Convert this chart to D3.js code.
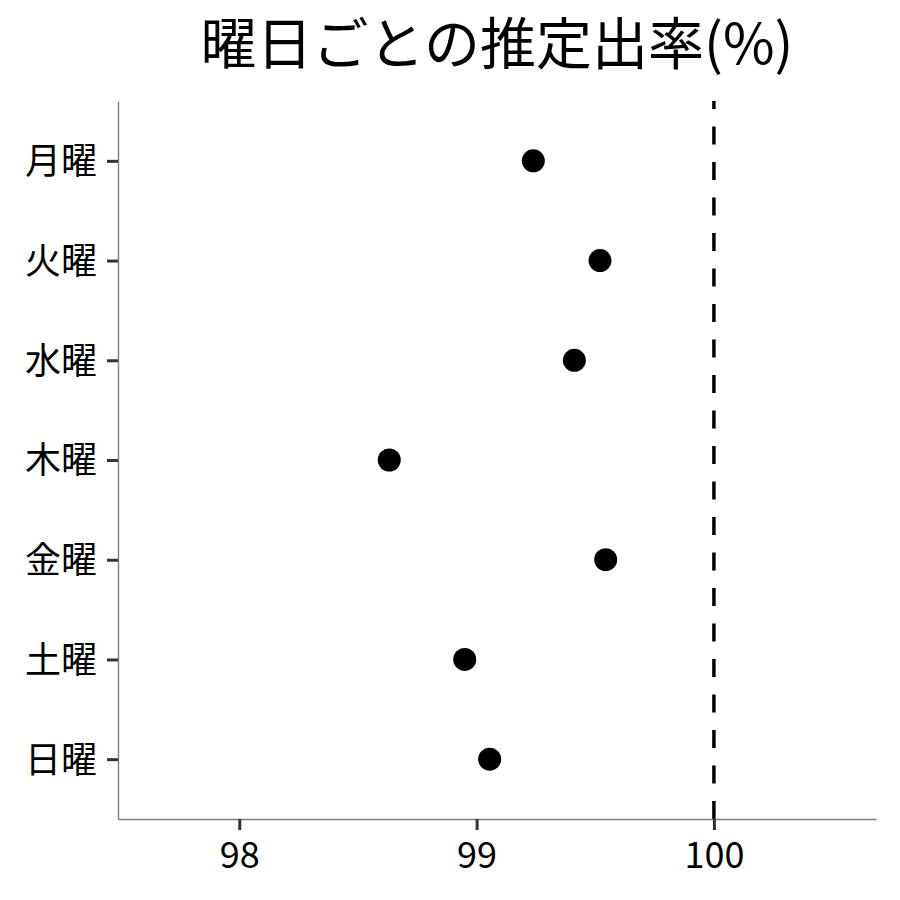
<!DOCTYPE html>
<html>
<head>
<meta charset="utf-8">
<script src="https://cdn.jsdelivr.net/npm/d3@7"></script>
<style>
  body { margin: 0; background: #fff; }
  svg text { font-family: "Noto Sans CJK JP", "Noto Sans", sans-serif; }
</style>
</head>
<body>
<div id="chart"></div>
<script>
// days of the week, top to bottom
const days = ['月曜', '火曜', '水曜', '木曜', '金曜', '土曜', '日曜'];
// estimated rate (%) per day
const rates = [99.239, 99.520, 99.412, 98.632, 99.544, 98.950, 99.055];
const xTicks = [98, 99, 100];
const refLine = 100;
const title = '曜日ごとの推定出率(%)';

const width = 900, height = 900;
const margin = { top: 101, right: 24, bottom: 81, left: 118 };

const svg = d3.select('#chart')
  .append('svg')
  .attr('width', width)
  .attr('height', height);

const x = d3.scaleLinear()
  .domain([97.489, 100.683])
  .range([margin.left, width - margin.right]);

const y = d3.scalePoint()
  .domain(days)
  .range([margin.top, height - margin.bottom])
  .padding(0.6);

// reference line at 100%, dash pattern starts from the bottom
svg.append('line')
  .attr('x1', x(refLine)).attr('x2', x(refLine))
  .attr('y1', height - margin.bottom).attr('y2', margin.top)
  .style('stroke', '#000')
  .style('stroke-width', 3.5)
  .style('stroke-dasharray', '18,17.5');

// x axis
const xAxis = svg.append('g')
  .attr('transform', `translate(0,${height - margin.bottom})`)
  .call(d3.axisBottom(x).tickValues(xTicks).tickFormat(d3.format('d'))
    .tickSize(11).tickPadding(12).tickSizeOuter(0));

// y axis
const yAxis = svg.append('g')
  .attr('transform', `translate(${margin.left},0)`)
  .call(d3.axisLeft(y).tickSize(11).tickPadding(10).tickSizeOuter(0));

[xAxis, yAxis].forEach(g => {
  g.select('.domain').style('stroke', '#7f7f7f').style('stroke-width', 1.4);
  g.selectAll('.tick line').style('stroke', '#333').style('stroke-width', 3);
  g.selectAll('.tick text')
    .style('font-size', '36px')
    .style('fill', '#000');
});
yAxis.selectAll('.tick text').attr('dy', '0.36em');
xAxis.selectAll('.tick text').attr('dy', '0.71em');

// points
svg.append('g')
  .selectAll('circle')
  .data(days)
  .enter()
  .append('circle')
  .attr('cx', (d, i) => x(rates[i]))
  .attr('cy', d => y(d))
  .attr('r', 11.5)
  .style('fill', '#000');

// title centred over the panel
svg.append('text')
  .attr('x', (margin.left + width - margin.right) / 2)
  .attr('y', 64)
  .attr('text-anchor', 'middle')
  .style('font-size', '56px')
  .style('fill', '#000')
  .text(title);
</script>
</body>
</html>
